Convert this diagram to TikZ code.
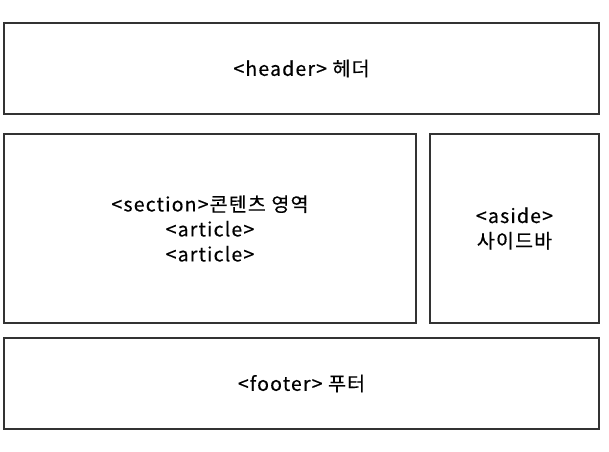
\documentclass[tikz,border=0pt]{standalone}
\usepackage{fontspec}
\setmainfont[LetterSpace=6,FakeBold=0.4]{Noto Sans CJK KR}
\usetikzlibrary{positioning}
\tikzset{
  area/.style={
    rectangle, anchor=north west,
    inner sep=0pt, outer sep=0pt,
    text centered, align=center,
    draw=black!80, line width=1.3pt, fill=white,
    font=\fontsize{19.5}{25}\selectfont},
}
\begin{document}
\begin{tikzpicture}[x=1pt,y=-1pt]
  \useasboundingbox (0,0) rectangle (609,451);

  \node[area, minimum width=595pt, minimum height=91pt] (header) at (4,23)
    {<header>\ 헤더};

  \node[area, minimum width=412pt, minimum height=189pt,
        below=20pt of header.south west, anchor=north west] (section)
    {<section>콘텐츠 영역\\<article>\\<article>};

  % aside sits right of section
  \node[area, minimum width=169pt, minimum height=189pt,
        right=14pt of section] (aside)
    {<aside>\\사이드바};

  \node[area, minimum width=595pt, minimum height=91pt,
        below=15pt of section.south west, anchor=north west] (footer)
    {<footer>\ 푸터};

\end{tikzpicture}
\end{document}
